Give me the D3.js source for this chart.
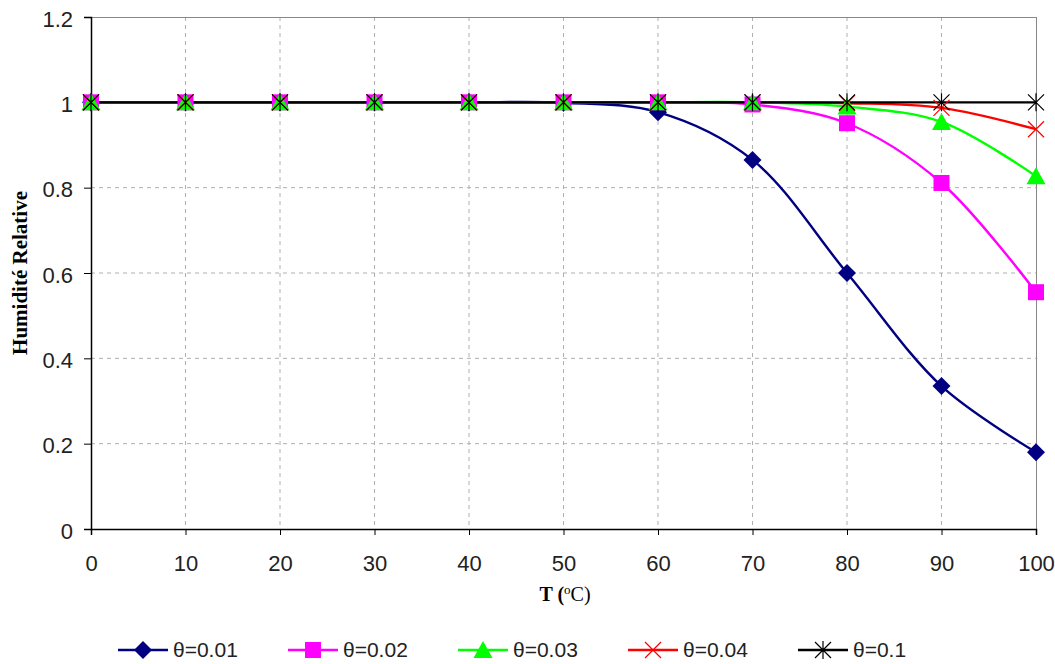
<!DOCTYPE html>
<html><head><meta charset="utf-8">
<script src="https://cdn.jsdelivr.net/npm/d3@7"></script>
<style>body{margin:0;background:#fff}</style>
</head><body>
<svg id="c" width="1055" height="664"></svg>
<script>
const temps = [0,10,20,30,40,50,60,70,80,90,100];
const s001 = [1,1,1,1,1,0.999,0.977,0.865,0.600,0.335,0.180];
const s002 = [1,1,1,1,1,1,1,0.995,0.951,0.811,0.555];
const s003 = [1,1,1,1,1,1,1,1,0.990,0.954,0.827];
const s004 = [1,1,1,1,1,1,1,1,0.998,0.987,0.937];
const s01  = [1,1,1,1,1,1,1,1,1,1,1];
const seriesNames = ["θ=0.01","θ=0.02","θ=0.03","θ=0.04","θ=0.1"];
const xTicks = [0,10,20,30,40,50,60,70,80,90,100];
const yTicks = [0,0.2,0.4,0.6,0.8,1,1.2];

const series = [
  {name:seriesNames[0], vals:s001, color:"#000080", marker:"diamond"},
  {name:seriesNames[1], vals:s002, color:"#FF00FF", marker:"square"},
  {name:seriesNames[2], vals:s003, color:"#00FF00", marker:"triangle"},
  {name:seriesNames[3], vals:s004, color:"#FF0000", marker:"x"},
  {name:seriesNames[4], vals:s01,  color:"#000000", marker:"star"}
];

const tickFont = "'Liberation Sans Narrow', 'Arial Narrow', 'Liberation Sans', Arial, sans-serif";
const svg = d3.select("#c");
const L=91, R=1036, T=17, B=529;
const x = d3.scaleLinear().domain([0,100]).range([L,R]);
const y = d3.scaleLinear().domain([0,1.2]).range([B,T]);

// grid
const g = svg.append("g");
g.selectAll(".vg").data(xTicks.slice(1,-1)).join("line")
  .attr("x1",d=>x(d)).attr("x2",d=>x(d)).attr("y1",T).attr("y2",B)
  .attr("stroke","#b0b0b0").attr("stroke-dasharray","4,4").attr("stroke-width",1);
g.selectAll(".hg").data(yTicks.slice(1,-1)).join("line")
  .attr("y1",d=>y(d)).attr("y2",d=>y(d)).attr("x1",L).attr("x2",R)
  .attr("stroke","#b0b0b0").attr("stroke-dasharray","4,4").attr("stroke-width",1);
// border top/right gray
svg.append("line").attr("x1",L).attr("x2",R).attr("y1",T+0.5).attr("y2",T+0.5).attr("stroke","#888");
svg.append("line").attr("x1",R+0.5).attr("x2",R+0.5).attr("y1",T).attr("y2",B).attr("stroke","#888");

// axes
const xAxis = svg.append("g").attr("transform",`translate(0,${B})`)
  .call(d3.axisBottom(x).tickValues(xTicks).tickSize(6).tickPadding(20).tickFormat(d3.format("d")));
const yAxis = svg.append("g").attr("transform",`translate(${L},0)`)
  .call(d3.axisLeft(y).tickValues(yTicks).tickSize(7).tickPadding(11).tickFormat(d=>d===0?"0":d===1?"1":d3.format(".1f")(d)));
[xAxis,yAxis].forEach(a=>{
  a.select(".domain").attr("stroke","#000").attr("stroke-width",1.5);
  a.selectAll(".tick line").attr("stroke","#000");
  a.selectAll("text").attr("font-family",tickFont).attr("font-size",22).attr("fill","#222");
});
yAxis.selectAll("text").attr("dy","0.42em");

// titles
svg.append("text").attr("transform",`translate(27,${(T+B)/2}) rotate(-90)`).attr("text-anchor","middle")
  .attr("font-family","'Liberation Serif','Times New Roman',serif").attr("font-weight","bold").attr("font-size",21)
  .text("Humidité Relative");
const xt = svg.append("text").attr("x",565).attr("y",601).attr("text-anchor","middle")
  .attr("font-family","'Liberation Serif','Times New Roman',serif").attr("font-weight","bold").attr("font-size",20);
xt.append("tspan").text("T (");
xt.append("tspan").attr("font-size",13).attr("dy",-7).attr("font-weight","normal").text("o");
xt.append("tspan").attr("dy",7).attr("font-weight","normal").text("C)");

// lines
const line = d3.line().x((d,i)=>x(temps[i])).y(d=>y(d)).curve(d3.curveCatmullRom.alpha(0.5));
function drawMarker(sel, type, color, cx, cy){
  if(type==="diamond"){
    sel.append("path").attr("d",`M${cx},${cy-9}L${cx+9},${cy}L${cx},${cy+9}L${cx-9},${cy}Z`).attr("fill",color);
  } else if(type==="square"){
    sel.append("rect").attr("x",cx-8).attr("y",cy-8).attr("width",16).attr("height",16).attr("fill",color);
  } else if(type==="triangle"){
    sel.append("path").attr("d",`M${cx},${cy-9}L${cx+9.5},${cy+8}L${cx-9.5},${cy+8}Z`).attr("fill",color);
  } else if(type==="x"){
    sel.append("path").attr("d",`M${cx-8},${cy-8}L${cx+8},${cy+8}M${cx-8},${cy+8}L${cx+8},${cy-8}`).attr("stroke",color).attr("stroke-width",1.2);
  } else if(type==="star"){
    sel.append("path").attr("d",`M${cx-8},${cy-8}L${cx+8},${cy+8}M${cx-8},${cy+8}L${cx+8},${cy-8}M${cx},${cy-9}L${cx},${cy+9}`).attr("stroke",color).attr("stroke-width",1.2);
  }
}
series.forEach(s=>{
  svg.append("path").datum(s.vals).attr("d",line).attr("fill","none").attr("stroke",s.color).attr("stroke-width",2.4);
});
series.forEach(s=>{
  const mg = svg.append("g");
  s.vals.forEach((v,i)=>drawMarker(mg,s.marker,s.color,x(temps[i]),y(v)));
});

// legend
const legX = [118,288,458,628,798];
series.forEach((s,i)=>{
  const lg = svg.append("g");
  const lx = legX[i], ly = 650;
  lg.append("line").attr("x1",lx).attr("x2",lx+50).attr("y1",ly).attr("y2",ly).attr("stroke",s.color).attr("stroke-width",2.5);
  drawMarker(lg,s.marker,s.color,lx+25,ly);
  lg.append("text").attr("x",lx+55).attr("y",ly+7).attr("font-family",tickFont)
    .attr("font-size",21).attr("fill","#222").text(s.name);
});
</script>
</body></html>
